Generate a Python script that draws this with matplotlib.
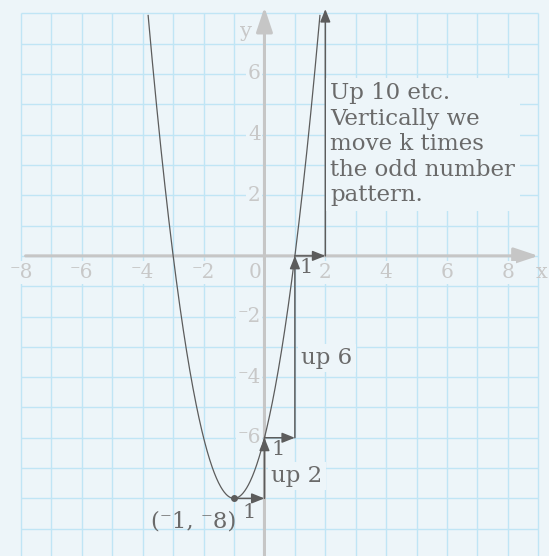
import numpy as np
import matplotlib
matplotlib.use("Agg")
import matplotlib.pyplot as plt

# Parabola y = a(x - h)^2 + k in vertex form
a, h, k = 2, -1, -8

# Step pattern from the vertex: run 1, rise a*(1, 3, 5, ...)
step_runs = [1, 1, 1]
step_rises = [2, 6, 10]
rise_labels = ["up 2", "up 6", None]

x_ticks = [-8, -6, -4, -2, 0, 2, 4, 6, 8]
y_ticks = [6, 4, 2, -2, -4, -6]

note = "Up 10 etc.\nVertically we\nmove k times\nthe odd number\npattern."

BG = "#EDF5F9"
GRID = "#C0E5F5"
AXIS = "#C6C6C6"
TICK = "#C8C8C8"
INK = "#5C5C5C"
TEXT = "#6A6A6A"
FAM = ["DejaVu Serif", "DejaVu Sans"]

plt.rcParams["font.family"] = FAM

fig = plt.figure(figsize=(5.49, 5.56), dpi=100, facecolor=BG)
ax = fig.add_axes([0, 0, 1, 1])
ax.set_facecolor(BG)
xmin, xmax, ymin, ymax = -8.69, 9.35, -9.90, 8.44
ax.set_xlim(xmin, xmax)
ax.set_ylim(ymin, ymax)
ax.axis("off")

# square grid
gx0, gx1, gy1 = -8, 9, 8
ax.vlines(np.arange(gx0, gx1 + 1), ymin, gy1, color=GRID, lw=1.0, zorder=1)
ax.hlines(np.arange(-9, gy1 + 1), gx0, gx1, color=GRID, lw=1.0, zorder=1)

# coordinate axes with arrowheads
axis_style = dict(arrowstyle="-|>,head_length=1.5,head_width=0.5",
                  color=AXIS, lw=2.2, shrinkA=0, shrinkB=0, mutation_scale=10)
ax.annotate("", xy=(9.0, 0), xytext=(-7.85, 0), arrowprops=axis_style, zorder=2)
ax.annotate("", xy=(0, 8.2), xytext=(0, ymin), arrowprops=axis_style, zorder=2)

tick_box = dict(boxstyle="square,pad=0.08", fc=BG, ec="none")
for v in x_ticks:
    lab = ("\u207b%d" % -v) if v < 0 else str(v)
    xp = -0.3 if v == 0 else v
    ax.text(xp, -0.55, lab, color=TICK, fontsize=14.5, ha="center", va="center",
            bbox=tick_box, zorder=3)
for v in y_ticks:
    lab = ("\u207b%d" % -v) if v < 0 else str(v)
    ax.text(-0.12, v, lab, color=TICK, fontsize=14.5, ha="right", va="center",
            bbox=tick_box, zorder=3)
ax.text(9.12, -0.55, "x", color=TICK, fontsize=15, ha="center", va="center", zorder=3)
ax.text(-0.62, 7.4, "y", color=TICK, fontsize=15, ha="center", va="center",
        bbox=tick_box, zorder=3)

# the parabola, kept inside the grid
xs = np.linspace(-4.5, 2.5, 600)
ys = a * (xs - h) ** 2 + k
ys = np.where(ys <= gy1, ys, np.nan)
ax.plot(xs, ys, color=INK, lw=0.9, zorder=4)

# vertex
ax.plot([h], [k], "o", color=INK, ms=4, zorder=6)
ax.text(h + 0.07, k - 0.75, "(\u207b1, \u207b8)", color=TEXT, fontsize=16.5,
        ha="right", va="center", zorder=6)

# run / rise staircase
step_style = dict(arrowstyle="-|>,head_length=0.55,head_width=0.22",
                  color=INK, lw=1.1, shrinkA=0, shrinkB=0, mutation_scale=14)
run_label_pos = [(-0.5, -8.48), (0.46, -6.4), (1.38, -0.4)]
rise_label_pos = [(0.23, -7.26), (1.2, -3.37), None]
px, py = h, k
top = ymax - 0.3
for i, (run, rise) in enumerate(zip(step_runs, step_rises)):
    nx = px + run
    ax.annotate("", xy=(nx, py), xytext=(px, py), arrowprops=step_style, zorder=5)
    ny = py + rise
    ax.annotate("", xy=(nx, min(ny, top)), xytext=(nx, py), arrowprops=step_style,
                zorder=5)
    rx, ry = run_label_pos[i]
    ax.text(rx, ry, str(run), color=TEXT, fontsize=15, ha="center", va="center",
            zorder=6)
    if rise_labels[i]:
        lx, ly = rise_label_pos[i]
        ax.text(lx, ly, rise_labels[i], color=TEXT, fontsize=16.5, ha="left",
                va="center", bbox=dict(boxstyle="square,pad=0.15", fc=BG, ec="none"),
                zorder=6)
    px, py = nx, ny

ax.text(2.17, 5.72, note, color=TEXT, fontsize=16.5, ha="left", va="top",
        linespacing=1.2, bbox=dict(boxstyle="square,pad=0.2", fc=BG, ec="none"),
        zorder=6)

fig.savefig("out.png", dpi=100, facecolor=BG)
